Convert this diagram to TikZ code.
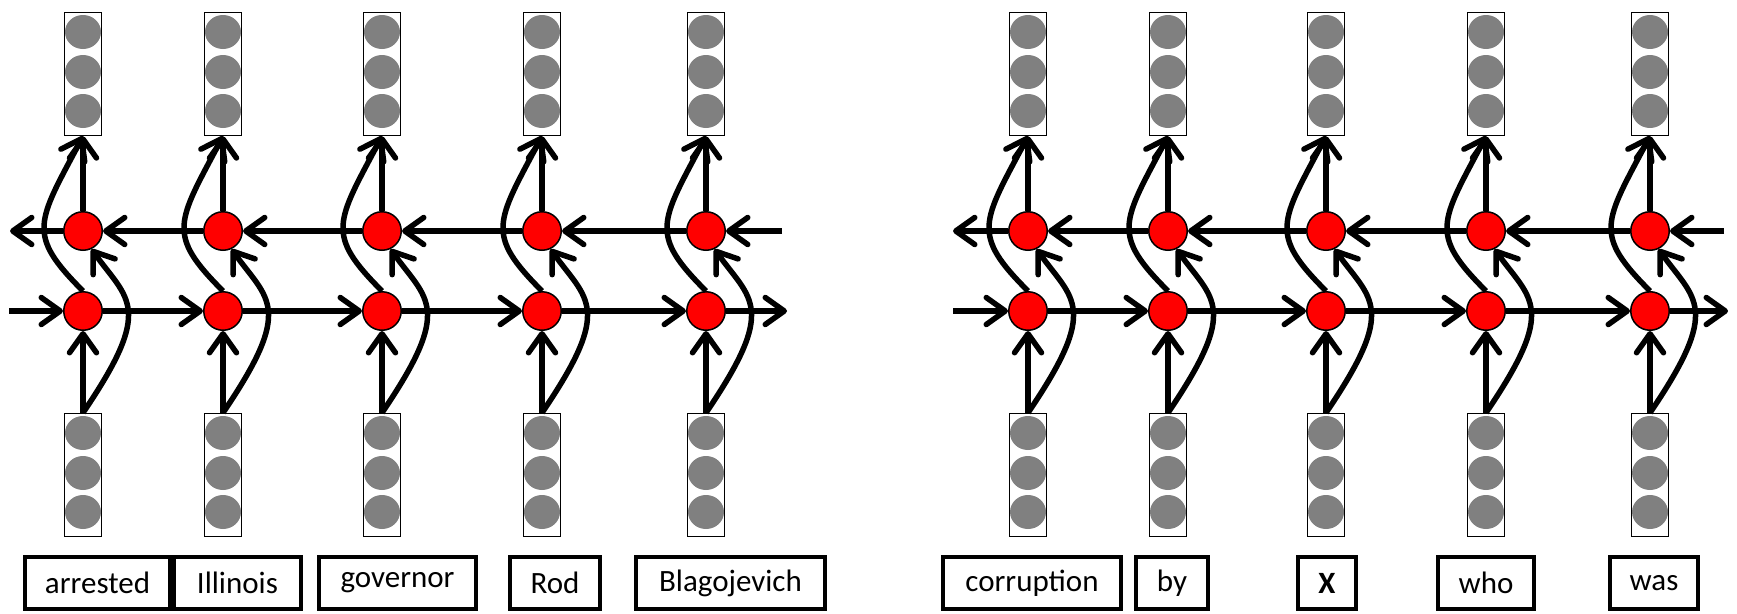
\documentclass[tikz,border=0pt]{standalone}
\usepackage{fontspec}
\setmainfont{Carlito}
\usetikzlibrary{arrows.meta}

\tikzset{
  vec/.style={draw,line width=1.5pt,minimum width=37pt,minimum height=123pt,inner sep=0pt},
  hid/.style={circle,draw,fill=red,line width=1.5pt,minimum size=38.5pt,inner sep=0pt},
  word/.style={draw,line width=4pt,minimum height=52pt,inner sep=0pt,font=\fontsize{31}{37}\selectfont},
  link/.style={line width=5.5pt,-{Straight Barb[length=19pt,width=27pt,round]}}
}

\begin{document}
\begin{tikzpicture}[x=1pt,y=-1pt]
\useasboundingbox (0,0) rectangle (1737,613);
% columns
\foreach \i/\x in {1/83,2/223,3/382,4/542,5/706,6/1028,7/1168,8/1326,9/1486,10/1650}{
  % output vector
  \foreach \y in {32,72,111} \fill[gray] (\x,\y) ellipse [x radius=18,y radius=17];
  \node[vec] (top\i) at (\x,74) {};
  % input vector
  \foreach \y in {433,473,512} \fill[gray] (\x,\y) ellipse [x radius=18,y radius=17];
  \node[vec] (bot\i) at (\x,475) {};
  % hidden units
  \node[hid] (bwd\i) at (\x,231) {};
  \node[hid] (fwd\i) at (\x,311) {};
  \draw[link] (bot\i.north) -- (fwd\i.south);
  \draw[link] (bot\i.north) .. controls (\x+72,307) and (\x+45,300) .. (bwd\i.-65);
  \draw[link] (bwd\i.north) -- (top\i.south);
  \draw[link] (fwd\i.north) .. controls (\x-57,234) and (\x-46,223) .. (top\i.south);
}
% recurrent links
\foreach \i/\j in {1/2,2/3,3/4,4/5,6/7,7/8,8/9,9/10}{
  \draw[link] (fwd\i.east) -- (fwd\j.west);
  \draw[link] (bwd\j.west) -- (bwd\i.east);
}
% loose ends
\coordinate (finL) at (9,311);
\coordinate (foutL) at (787,311);
\coordinate (binL) at (782,231);
\coordinate (boutL) at (10,231);
\coordinate (finR) at (953,311);
\coordinate (foutR) at (1728,311);
\coordinate (binR) at (1724,231);
\coordinate (boutR) at (953,231);
\draw[link] (finL) -- (fwd1.west);
\draw[link] (fwd5.east) -- (foutL);
\draw[link] (binL) -- (bwd5.east);
\draw[link] (bwd1.west) -- (boutL);
\draw[link] (finR) -- (fwd6.west);
\draw[link] (fwd10.east) -- (foutR);
\draw[link] (binR) -- (bwd10.east);
\draw[link] (bwd6.west) -- (boutR);
% words
\foreach \n/\l/\r/\t in {1/23/172/arrested,2/172/303/Illinois,3/317/478/governor,
  4/508/602/Rod,5/634/827/Blagojevich,6/941/1123/corruption,7/1134/1210/by,
  8/1296/1358/\textbf{X},9/1436/1536/who,10/1608/1700/was}
  \node[word,minimum width=\r-\l-4] (word\n) at ({(\l+\r)/2},583) {\t};
\end{tikzpicture}
\end{document}
